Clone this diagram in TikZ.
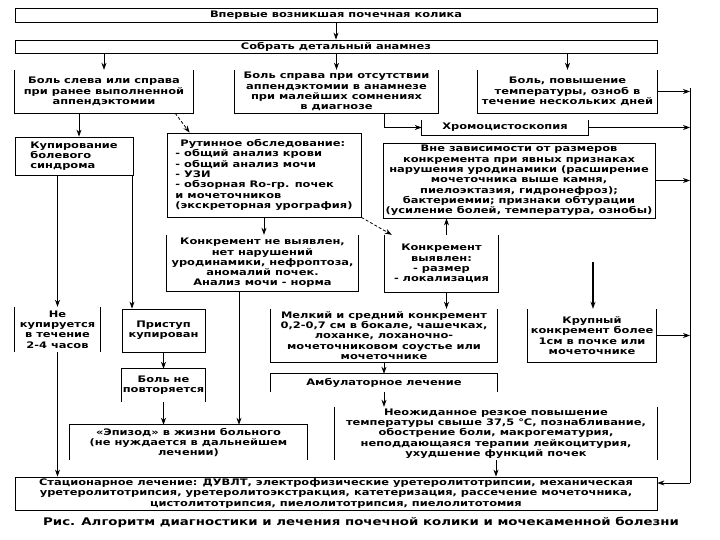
\documentclass[tikz,border=0pt]{standalone}
\usepackage{fontspec}
\usetikzlibrary{arrows.meta}
\newfontfamily\rufont{DejaVu Sans}[FakeStretch=1.27]
\begin{document}
\begin{tikzpicture}[x=1pt, y=-1pt]
    % стили
    \tikzstyle{every node}=[font=\rufont\bfseries\fontsize{9}{10.3}\selectfont]
    \tikzstyle{box}=[draw, line width=0.8pt, inner sep=0pt, align=center]
    \tikzstyle{openbox}=[inner sep=0pt, align=center]
    \tikzstyle{side}=[line width=0.8pt]
    \tikzstyle{arrowstyle}=[->, >={Stealth[length=7pt, width=5pt]}, line width=0.8pt]
    \tikzstyle{diagarrow}=[->, >={Stealth[length=7pt, width=5pt]}, line width=0.8pt, densely dashed]

    \fill[white] (0,0) rectangle (720,540);
    \useasboundingbox (0,0) rectangle (720,540);

    % 1. верхние блоки
    \node[box, minimum width=642, minimum height=14] (top) at (336,15) {Впервые возникшая почечная колика};
    \node[box, minimum width=642, minimum height=13] (anam) at (336,46.5) {Собрать детальный анамнез};

    % 2. три варианта боли
    \node[openbox, minimum width=178, minimum height=43] (a3) at (104,91.5) {Боль слева или справа\\при ранее выполненной\\аппендэктомии};
    \node[openbox, minimum width=203, minimum height=43] (b3) at (336.5,91.5) {Боль справа при отсутствии\\аппендэктомии в анамнезе\\при малейших сомнениях\\в диагнозе};
    \node[openbox, minimum width=179, minimum height=43] (c3) at (567.5,91.5) {Боль, повышение\\температуры, озноб в\\течение нескольких дней};

    % 3. обследование
    \node[box, align=left, minimum width=118, minimum height=38] (kup) at (74,156) {Купирование\\болевого\\синдрома};
    \node[box, align=left, minimum width=194, minimum height=84] (rout) at (264,175) {\hspace*{5pt}Рутинное обследование:\\- общий анализ крови\\- общий анализ мочи\\- УЗИ\\- обзорная Rо-гр. почек\\и мочеточников\\(экскреторная урография)};
    \node[openbox, minimum width=166, minimum height=15] (chromo) at (505,127.5) {Хромоцистоскопия};
    \node[box, minimum width=272, minimum height=75] (vne) at (519,180.5) {Вне зависимости от размеров\\конкремента при явных признаках\\нарушения уродинамики (расширение\\мочеточника выше камня,\\пиелоэктазия, гидронефроз);\\бактериемии; признаки обтурации\\(усиление болей, температура, ознобы)};

    % 4. результаты
    \node[openbox, minimum width=191, minimum height=56] (nevyav) at (262.5,263) {Конкремент не выявлен,\\нет нарушений\\уродинамики, нефроптоза,\\аномалий почек.\\Анализ мочи - норма};
    \node[openbox, minimum width=113, minimum height=57] (vyav) at (441.5,263.5) {Конкремент\\выявлен:\\- размер\\- локализация};
    \node[openbox, minimum width=85, minimum height=45] (nekup) at (57.5,329.5) {Не\\купируется\\в течение\\2-4 часов};
    \node[box, minimum width=83, minimum height=43] (prist) at (163.5,330.5) {Приступ\\купирован};
    \node[openbox, minimum width=226, minimum height=53] (melk) at (384,335.5) {Мелкий и средний конкремент\\0,2-0,7 см в бокале, чашечках,\\лоханке, лоханочно-\\мочеточниковом соустье или\\мочеточнике};
    \node[openbox, minimum width=128, minimum height=53] (krup) at (592,335.5) {Крупный\\конкремент более\\1см в почке или\\мочеточнике};
    \node[openbox, minimum width=83, minimum height=33] (bolne) at (163.5,385.5) {Боль не\\повторяется};
    \node[openbox, minimum width=226, minimum height=18] (amb) at (384,383) {Амбулаторное лечение};
    \node[openbox, minimum width=237, minimum height=35] (epis) at (188.5,442.5) {«Эпизод» в жизни больного\\(не нуждается в дальнейшем\\лечении)};
    \node[openbox, minimum width=322, minimum height=53] (neozh) at (496,433.5) {Неожиданное резкое повышение\\температуры свыше 37,5 °С, познабливание,\\обострение боли, макрогематурия,\\неподдающаяся терапии лейкоцитурия,\\ухудшение функций почек};
    \node[box, minimum width=642, minimum height=33] (stac) at (336,493.5) {Стационарное лечение: ДУВЛТ, электрофизические уретеролитотрипсии, механическая\\уретеролитотрипсия, уретеролитоэкстракция, катетеризация, рассечение мочеточника,\\цистолитотрипсия, пиелолитотрипсия, пиелолитотомия};
    \node[font=\rufont\bfseries\fontsize{10.5}{12}\selectfont] (caption) at (361,522) {Рис. Алгоритм диагностики и лечения почечной колики и мочекаменной болезни};

    % стороны открытых блоков
    \foreach \n in {a3,b3,c3,chromo,nevyav,vyav,melk,krup}
        \draw[side] (\n.north west) -- (\n.south west) -- (\n.south east) -- (\n.north east);
    \foreach \n in {bolne,epis,amb}
        \draw[side] (\n.south west) -- (\n.north west) -- (\n.north east) -- (\n.south east);
    \foreach \n in {nekup,neozh}
        \draw[side] (\n.north west) -- (\n.south west) (\n.north east) -- (\n.south east);

    % точки ветвления
    \coordinate (k1) at ([xshift=-25]a3.south);
    \coordinate (k2) at ([xshift=48]b3.south);
    \coordinate (k3) at ([xshift=5]vyav.north);
    \coordinate (k4) at ([xshift=5]vyav.south);
    \coordinate (k5) at ([xshift=-23.5]nevyav.south);
    \coordinate (k6) at ([xshift=58]kup.south);
    \coordinate (railtop) at (690,88);
    \coordinate (railbot) at (690,483);
    \coordinate (krupin) at (593,262);

    % стрелки
    \draw[arrowstyle] (top) -- (anam);
    \draw[arrowstyle] (anam.south -| a3) -- (a3);
    \draw[arrowstyle] (anam.south -| b3) -- (b3);
    \draw[arrowstyle] (anam.south -| c3) -- (c3);
    \draw[arrowstyle] (k1) -- (k1 |- kup.north);
    \draw[diagarrow] ([xshift=-18]a3.south east) -- ([xshift=23]rout.north west);
    \draw[arrowstyle] (k2) |- (chromo.west);
    \draw[arrowstyle] (rout.south) -- (rout.south |- nevyav.north);
    \draw[diagarrow] (rout.south east) -- ([xshift=7]vyav.north west);
    \draw[arrowstyle] (k3) -- (k3 |- vne.south);
    \draw[arrowstyle] (k4) -- (k4 |- melk.north);
    \draw[arrowstyle] (melk) -- (amb);
    \draw[arrowstyle] (amb.south) -- (amb.south |- neozh.north);
    \draw[arrowstyle] (neozh.south) -- (neozh.south |- stac.north);
    \draw[arrowstyle] (k5) -- (k5 |- epis.north);
    \draw[arrowstyle] (kup.south -| nekup) -- (nekup);
    \draw[arrowstyle] (k6) -- (k6 |- prist.north);
    \draw[arrowstyle] (prist) -- (bolne);
    \draw[arrowstyle] (bolne.south) -- (bolne.south |- epis.north);
    \draw[arrowstyle] (nekup.south) -- (nekup.south |- stac.north);
    \draw[arrowstyle, line width=1.4pt] (krupin) -- (krupin |- krup.north);

    % правая магистраль к стационару
    \foreach \n in {c3,chromo,vne,krup}
        \draw[arrowstyle] (\n.east) -- (\n.east -| railtop);
    \draw[side] (railtop) -- (railbot);
    \draw[arrowstyle] (railbot) -- (railbot -| stac.east);

\end{tikzpicture}
\end{document}
